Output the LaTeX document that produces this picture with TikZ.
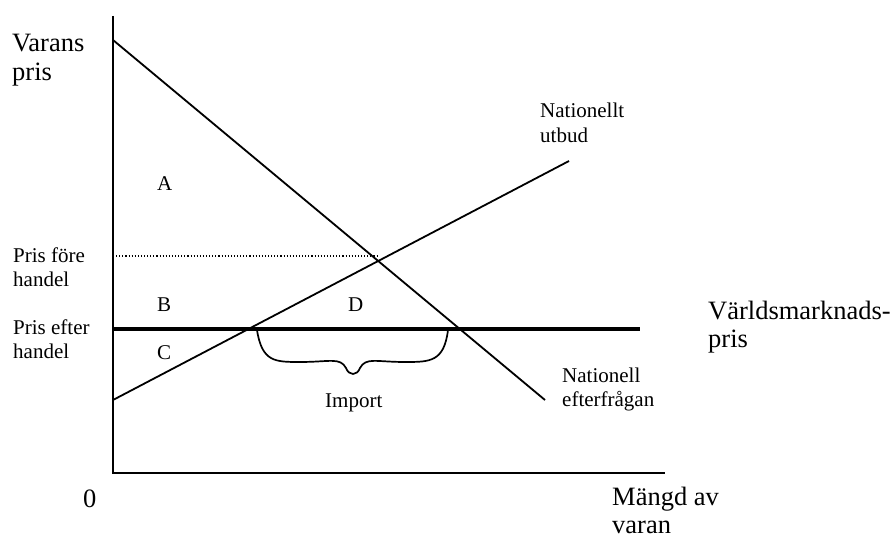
\documentclass[tikz,border=0pt]{standalone}
\usepackage{fontspec}
\setmainfont{Liberation Serif}
\tikzset{
  axisline/.style={line width=2.2pt},
  curve/.style={line width=1.8pt},
  worldline/.style={line width=4.6pt},
  prelin/.style={line width=1.1pt, dotted},
  bracecurve/.style={line width=1.7pt},
  small/.style={font=\fontsize{21}{24}\selectfont, inner sep=0pt, align=left, anchor=base west},
  big/.style={font=\fontsize{26.5}{29}\selectfont, inner sep=0pt, align=left, anchor=base west},
}
\begin{document}
\begin{tikzpicture}[x=1pt,y=-1pt]
\useasboundingbox (0,0) rectangle (894,540);
% coordinates
\coordinate (O) at (113,473);
\coordinate (ytop) at (113,16);
\coordinate (xend) at (665,473);
\coordinate (dA) at (113,40);
\coordinate (dB) at (545,400);
\coordinate (sA) at (113,400);
\coordinate (sB) at (569,161);
\coordinate (wA) at (113,329);
\coordinate (wB) at (640,329);
\coordinate (pA) at (113,256);
\coordinate (pB) at (377,256);
\coordinate (bL) at (257,330);
\coordinate (bR) at (448,330);
\coordinate (bT) at (353,377);
% axes
\draw[axisline] (ytop) -- (O) -- (xend);
% lines
\draw[prelin] (pA) -- (pB);
\draw[curve] (dA) -- (dB);
\draw[curve] (sA) -- (sB);
\draw[worldline] (wA) -- (wB);
% brace
\draw[bracecurve] (bL) .. controls (262,362) and (275,362) .. (300,362)
  .. controls (330,362) and (340,357) .. (346,368)
  .. controls (349,376) and (357,376) .. (360,368)
  .. controls (366,357) and (376,362) .. (405,362)
  .. controls (430,362) and (444,362) .. (bR);
% labels (multi-line nodes: base = last line)
\node[big] (varans) at (12,81) {Varans\\pris};
\node[small] (fore) at (13,286) {Pris före\\handel};
\node[small] (efter) at (13,358) {Pris efter\\handel};
\node[small] (A) at (157,191) {A};
\node[small] (B) at (157,311) {B};
\node[small] (C) at (157,359) {C};
\node[small] (D) at (348,311) {D};
\node[small] (imp) at (325,407) {Import};
\node[small, font=\fontsize{21}{25}\selectfont] (utbud) at (540,143) {Nationellt\\utbud};
\node[big, font=\fontsize{26.5}{28}\selectfont] (world) at (708,347) {Världsmarknads-\\pris};
\node[small] (efterfr) at (562,406) {Nationell\\efterfrågan};
\node[big] (zero) at (83,507) {0};
\node[big, font=\fontsize{26.5}{28}\selectfont] (mangd) at (612,533) {Mängd av\\varan};
\end{tikzpicture}
\end{document}
